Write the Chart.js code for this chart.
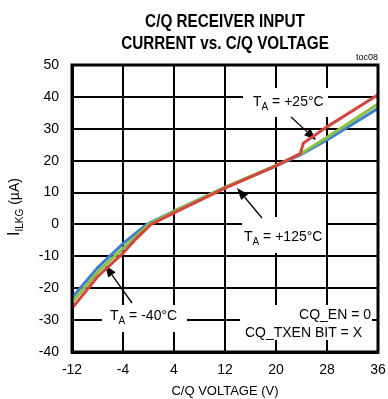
<!DOCTYPE html>
<html>
<head>
<meta charset="utf-8">
<script src="https://cdn.jsdelivr.net/npm/chart.js@4"></script>
<style>
  body { margin: 0; background: #fff; }
  canvas { display: block; }
</style>
</head>
<body>
<canvas id="chart" width="388" height="399"></canvas>
<script>
// data: C/Q voltage (V) vs input current (uA)
const blueV = [-12, -8, -4, -2, -0.3, 4, 12, 20, 23.8, 28, 36];
const blueI = [-23, -13.6, -6, -2.7, 0, 4.2, 11.6, 18.4, 21.8, 26.5, 36.4];
const greenV = [-12, -8, -4, -2, 0, 4, 12, 20, 23.8, 28, 36];
const greenI = [-24.5, -15, -7.5, -3.8, 0, 4.1, 11.6, 18.5, 22, 27.3, 37.8];
const redV = [-12, -8, -4, -2, 0.4, 4, 12, 20, 23.8, 24.3, 28, 36];
const redI = [-26.3, -16.4, -9, -4.6, 0, 3.6, 11.4, 18.4, 22.2, 25.5, 30.6, 40.7];

const xTicks = [-12, -4, 4, 12, 20, 28, 36];
const yTicks = [-40, -30, -20, -10, 0, 10, 20, 30, 40, 50];

const FONT = '"Liberation Sans", Arial, sans-serif';

function pts(vs, is) {
    return vs.map((v, i) => ({ x: v, y: is[i] }));
}

function arrow(ctx, x1, y1, x2, y2) {
    const a = Math.atan2(y2 - y1, x2 - x1);
    const len = 12, w = 4.5;
    ctx.strokeStyle = '#000';
    ctx.fillStyle = '#000';
    ctx.lineWidth = 1.3;
    ctx.beginPath();
    ctx.moveTo(x1, y1);
    ctx.lineTo(x2 - len * Math.cos(a), y2 - len * Math.sin(a));
    ctx.stroke();
    ctx.beginPath();
    ctx.moveTo(x2, y2);
    ctx.lineTo(x2 - len * Math.cos(a) + w * Math.sin(a), y2 - len * Math.sin(a) - w * Math.cos(a));
    ctx.lineTo(x2 - len * Math.cos(a) - w * Math.sin(a), y2 - len * Math.sin(a) + w * Math.cos(a));
    ctx.closePath();
    ctx.fill();
}

// "T" + subscript "A" + rest
function taLabel(ctx, x, y, rest) {
    ctx.fillStyle = '#000';
    ctx.textBaseline = 'middle';
    ctx.textAlign = 'left';
    ctx.font = '14px ' + FONT;
    ctx.fillText('T', x, y);
    let w = ctx.measureText('T').width;
    ctx.font = '10px ' + FONT;
    ctx.fillText('A', x + w, y + 5);
    w += ctx.measureText('A').width;
    ctx.font = '14px ' + FONT;
    ctx.fillText(rest, x + w, y);
}

const annotations = {
    id: 'annotations',
    beforeDatasetsDraw(chart) {
        const ctx = chart.ctx;
        ctx.save();
        ctx.fillStyle = '#fff';
        ctx.fillRect(243, 88, 85, 29);
        ctx.fillRect(242, 217, 84, 36);
        ctx.fillRect(102, 305, 85, 27);
        ctx.fillRect(240, 305, 132, 35);

        taLabel(ctx, 253, 102, ' = +25°C');
        taLabel(ctx, 244, 237, ' = +125°C');
        taLabel(ctx, 110, 316, ' = -40°C');

        ctx.font = '14px ' + FONT;
        ctx.textAlign = 'right';
        ctx.textBaseline = 'middle';
        ctx.fillText('CQ_EN = 0', 371, 315);
        ctx.fillText('CQ_TXEN BIT = X', 362, 333);

        arrow(ctx, 291, 117, 316, 140);
        arrow(ctx, 262, 218, 237, 188);
        arrow(ctx, 132, 303, 105, 265);
        ctx.restore();
    },
    afterDraw(chart) {
        const ctx = chart.ctx;
        const a = chart.chartArea;
        ctx.save();
        ctx.strokeStyle = '#000';
        ctx.lineWidth = 3;
        ctx.strokeRect(a.left, a.top, a.right - a.left, a.bottom - a.top);

        // title, slightly condensed
        ctx.fillStyle = '#000';
        ctx.font = 'bold 18px ' + FONT;
        ctx.textAlign = 'center';
        ctx.textBaseline = 'middle';
        const cx = (a.left + a.right) / 2;
        ctx.save();
        ctx.translate(cx, 0);
        ctx.scale(0.85, 1);
        ctx.fillText('C/Q RECEIVER INPUT', 0, 22);
        ctx.fillText('CURRENT vs. C/Q VOLTAGE', 0, 44);
        ctx.restore();

        ctx.font = '9px ' + FONT;
        ctx.textAlign = 'right';
        ctx.fillText('toc08', 378, 58);

        // x axis title
        ctx.font = '13px ' + FONT;
        ctx.textAlign = 'center';
        ctx.fillText('C/Q VOLTAGE (V)', cx, 391);

        // y axis title with subscript
        ctx.translate(15, 207);
        ctx.rotate(-Math.PI / 2);
        ctx.textAlign = 'left';
        ctx.font = '16px ' + FONT;
        const w1 = ctx.measureText('I').width;
        ctx.font = '10px ' + FONT;
        const w2 = ctx.measureText('ILKG').width;
        ctx.font = '14px ' + FONT;
        const w3 = ctx.measureText(' (µA)').width;
        let x = -(w1 + w2 + w3) / 2;
        ctx.font = '16px ' + FONT;
        ctx.fillText('I', x, 0);
        x += w1;
        ctx.font = '10px ' + FONT;
        ctx.fillText('ILKG', x, 5);
        x += w2;
        ctx.font = '14px ' + FONT;
        ctx.fillText(' (µA)', x, 0);
        ctx.restore();
    }
};

new Chart(document.getElementById('chart').getContext('2d'), {
    type: 'scatter',
    data: {
        datasets: [{
            label: 'TA = +125°C',
            data: pts(redV, redI),
            borderColor: '#d2463f',
        }, {
            label: 'TA = +25°C',
            data: pts(greenV, greenI),
            borderColor: '#8cbf45',
        }, {
            label: 'TA = -40°C',
            data: pts(blueV, blueI),
            borderColor: '#3d7fcb',
        }].map(d => Object.assign(d, {
            showLine: true,
            pointRadius: 0,
            borderWidth: 3,
            tension: 0
        }))
    },
    options: {
        responsive: false,
        animation: false,
        layout: { padding: { top: 65, right: 10, left: 0, bottom: 0 } },
        plugins: {
            legend: { display: false },
            tooltip: { enabled: false }
        },
        scales: {
            x: {
                type: 'linear',
                min: -12,
                max: 36,
                afterFit: s => { s.height = 47; s.paddingLeft = 0; s.paddingRight = 0; },
                afterBuildTicks: s => { s.ticks = xTicks.map(v => ({ value: v })); },
                grid: { color: '#000', lineWidth: 2, drawTicks: false },
                border: { color: '#000', width: 3 },
                ticks: {
                    color: '#000',
                    padding: 10,
                    font: { family: FONT, size: 14 },
                    maxRotation: 0
                }
            },
            y: {
                type: 'linear',
                min: -40,
                max: 50,
                afterFit: s => { s.width = 72; s.paddingTop = 0; s.paddingBottom = 0; },
                afterBuildTicks: s => { s.ticks = yTicks.map(v => ({ value: v })); },
                grid: { color: '#000', lineWidth: 2, drawTicks: false },
                border: { color: '#000', width: 3 },
                ticks: {
                    color: '#000',
                    padding: 13,
                    font: { family: FONT, size: 14 }
                }
            }
        }
    },
    plugins: [annotations]
});
</script>
</body>
</html>
